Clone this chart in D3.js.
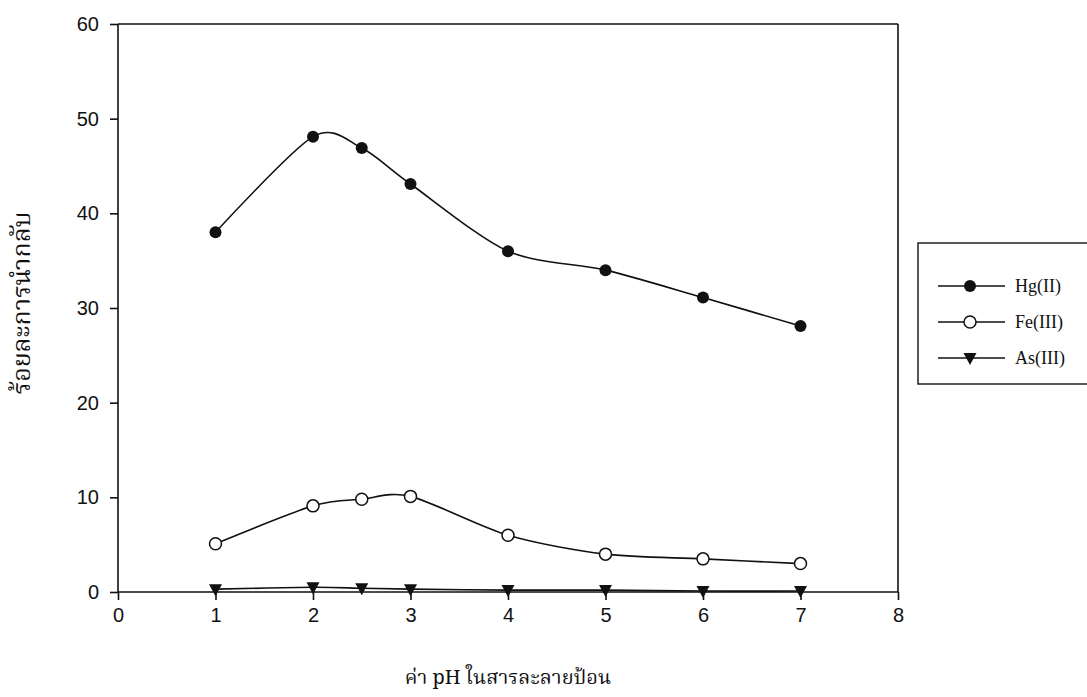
<!DOCTYPE html>
<html><head><meta charset="utf-8">
<script src="https://cdn.jsdelivr.net/npm/d3@7"></script>
<style>body{margin:0;background:#fff}</style>
</head><body>
<svg id="c" width="1087" height="697"></svg>
<script>
const phValues = [1, 2, 2.5, 3, 4, 5, 6, 7];
const hgValues = [38.0, 48.1, 46.9, 43.1, 36.0, 34.0, 31.1, 28.1];
const feValues = [5.1, 9.1, 9.8, 10.1, 6.0, 4.0, 3.5, 3.0];
const asValues = [0.3, 0.5, 0.4, 0.3, 0.2, 0.2, 0.1, 0.1];
const seriesNames = ["Hg(II)", "Fe(III)", "As(III)"];
const xTicks = [0,1,2,3,4,5,6,7,8];
const yTicks = [0,10,20,30,40,50,60];
const xTitle = "ค่า pH ในสารละลายป้อน";
const yTitle = "ร้อยละการนำกลับ";

const svg = d3.select("#c");
const x = d3.scaleLinear().domain([0,8]).range([118,898]);
const y = d3.scaleLinear().domain([0,60]).range([592,24]);
const ink = "#111";

svg.append("line").attr("x1",x(0)).attr("x2",x(8)).attr("y1",y(60)).attr("y2",y(60)).attr("stroke",ink).attr("stroke-width",1.6);
svg.append("line").attr("x1",x(8)).attr("x2",x(8)).attr("y1",y(60)).attr("y2",y(0)).attr("stroke",ink).attr("stroke-width",1.6);

const xAxis = svg.append("g").attr("transform",`translate(0,${y(0)})`)
  .call(d3.axisBottom(x).tickValues(xTicks).tickSize(8).tickPadding(8).tickFormat(d3.format("d")));
const yAxis = svg.append("g").attr("transform",`translate(${x(0)},0)`)
  .call(d3.axisLeft(y).tickValues(yTicks).tickSize(8).tickPadding(11).tickFormat(d3.format("d")));
[xAxis,yAxis].forEach(a=>{
  a.select(".domain").attr("stroke",ink).attr("stroke-width",1.6);
  a.selectAll(".tick line").attr("stroke",ink).attr("stroke-width",1.6);
  a.selectAll(".tick text").attr("fill",ink).style("font-family","Liberation Sans, Arial, sans-serif").style("font-size","20px");
});
xAxis.selectAll(".domain").attr("d",`M${x(0)},0H${x(8)}`);
yAxis.selectAll(".domain").attr("d",`M0,${y(0)}V${y(60)}`);

const line = d3.line().x(d=>x(d[0])).y(d=>y(d[1])).curve(d3.curveCardinal.tension(0.15));
const sets = [hgValues, feValues, asValues];
sets.forEach(vals=>{
  const pts = phValues.map((p,i)=>[p,vals[i]]);
  svg.append("path").attr("d",line(pts)).attr("fill","none").attr("stroke",ink).attr("stroke-width",1.6);
});

function marker(g, type, cx, cy){
  if(type===0) g.append("circle").attr("cx",cx).attr("cy",cy).attr("r",6).attr("fill",ink);
  else if(type===1) g.append("circle").attr("cx",cx).attr("cy",cy).attr("r",6).attr("fill","#fff").attr("stroke",ink).attr("stroke-width",1.5);
  else g.append("path").attr("d",`M${cx-6.5},${cy-5}L${cx+6.5},${cy-5}L${cx},${cy+7}Z`).attr("fill",ink);
}
sets.forEach((vals,si)=>{
  const g = svg.append("g");
  phValues.forEach((p,i)=>marker(g,si,x(p),y(vals[i])));
});

const lg = svg.append("g");
lg.append("rect").attr("x",918).attr("y",243).attr("width",180).attr("height",141).attr("fill","#fff").attr("stroke",ink).attr("stroke-width",1.4);
const rowY = [286,322,358];
seriesNames.forEach((n,i)=>{
  lg.append("line").attr("x1",938).attr("x2",1005).attr("y1",rowY[i]).attr("y2",rowY[i]).attr("stroke",ink).attr("stroke-width",1.5);
  marker(lg,i,970,rowY[i]);
  lg.append("text").attr("x",1015).attr("y",rowY[i]+6).text(n)
    .style("font-family","Liberation Serif, Times New Roman, serif").style("font-size","18px").attr("fill",ink);
});

svg.append("text").attr("x",508).attr("y",684).attr("text-anchor","middle").text(xTitle)
  .style("font-family","'Noto Serif Thai','Noto Sans Thai','Noto Sans',serif").style("font-size","20px").attr("fill",ink);
svg.append("text").attr("transform","translate(30,303) rotate(-90)").attr("text-anchor","middle").text(yTitle)
  .style("font-family","'Noto Serif Thai','Noto Sans Thai','Noto Sans',serif").style("font-size","25px").attr("fill",ink);
</script>
</body></html>
